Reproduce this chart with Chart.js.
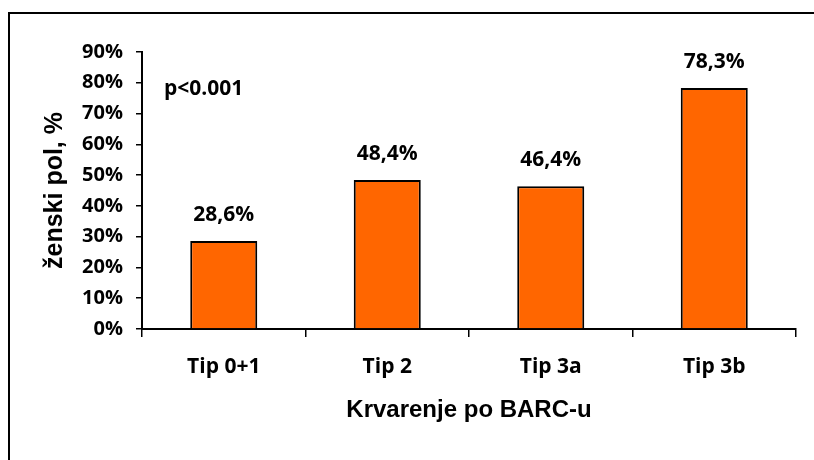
<!DOCTYPE html>
<html>
<head>
<meta charset="utf-8">
<script src="https://cdn.jsdelivr.net/npm/chart.js@4.4.0/dist/chart.umd.min.js"></script>
<style>
  html, body { margin: 0; padding: 0; background: #fff; overflow: hidden; }
  #frame {
    position: absolute; left: 8px; top: 12px;
    width: 900px; height: 600px;
    border-left: 2px solid #000; border-top: 2px solid #000;
  }
  #wrap { position: absolute; left: 0; top: 0; width: 814px; height: 460px; }
</style>
</head>
<body>
<div id="frame"></div>
<div id="wrap"><canvas id="myChart" width="814" height="460"></canvas></div>
<script>
const categories = ["Tip 0+1", "Tip 2", "Tip 3a", "Tip 3b"];
const femaleShare = [28.6, 48.4, 46.4, 78.3];
const yTicks = [0, 10, 20, 30, 40, 50, 60, 70, 80, 90];
const pValueText = "p<0.001";

const labelFont = "bold 21px 'Open Sans'";

// value labels above bars + p-value note
const barLabels = {
  id: "barLabels",
  afterDatasetsDraw(chart) {
    const ctx = chart.ctx;
    const meta = chart.getDatasetMeta(0);
    ctx.save();
    ctx.fillStyle = "#000";
    ctx.font = labelFont;
    ctx.textAlign = "center";
    ctx.textBaseline = "middle";
    meta.data.forEach((bar, i) => {
      const txt = femaleShare[i].toFixed(1).replace(".", ",") + "%";
      ctx.fillText(txt, bar.x, bar.y - 26);
    });
    ctx.font = "bold 21px 'Open Sans'";
    ctx.textAlign = "left";
    ctx.fillText(pValueText, chart.chartArea.left + 22, chart.scales.y.getPixelForValue(78));
    ctx.restore();
  }
};

new Chart(document.getElementById("myChart").getContext("2d"), {
  type: "bar",
  data: {
    labels: categories,
    datasets: [{
      data: femaleShare,
      backgroundColor: "#FF6600",
      borderColor: "#000",
      borderWidth: 2,
      categoryPercentage: 1,
      barPercentage: 0.41
    }]
  },
  options: {
    responsive: false,
    animation: false,
    layout: { padding: { top: 52, right: 18, left: 0, bottom: 0 } },
    plugins: {
      legend: { display: false },
      tooltip: { enabled: false }
    },
    scales: {
      x: {
        afterFit: (scale) => { scale.height = 131; },
        grid: {
          offset: true,
          drawOnChartArea: false,
          color: "#000",
          lineWidth: 1.5,
          tickLength: 8
        },
        border: { color: "#000", width: 2 },
        ticks: {
          color: "#000",
          font: { family: "'Open Sans'", size: 21, weight: "bold" },
          padding: 17
        },
        title: {
          display: true,
          text: "Krvarenje po BARC-u",
          color: "#000",
          font: { family: "'Liberation Sans'", size: 24, weight: "bold" },
          padding: { top: 0, bottom: 35 }
        }
      },
      y: {
        min: 0,
        max: 90,
        afterFit: (scale) => { scale.width = 142; },
        afterBuildTicks: (scale) => { scale.ticks = yTicks.map(v => ({ value: v })); },
        grid: {
          drawOnChartArea: false,
          color: "#000",
          lineWidth: 1.5,
          tickLength: 6
        },
        border: { color: "#000", width: 2 },
        ticks: {
          color: "#000",
          font: { family: "'Open Sans'", size: 20, weight: "bold" },
          padding: 13,
          callback: (v) => v + "%"
        },
        title: {
          display: true,
          text: "ženski pol, %",
          color: "#000",
          font: { family: "'Liberation Sans'", size: 25, weight: "bold" },
          padding: { top: 40, bottom: 0 }
        }
      }
    }
  },
  plugins: [barLabels]
});
</script>
</body>
</html>
